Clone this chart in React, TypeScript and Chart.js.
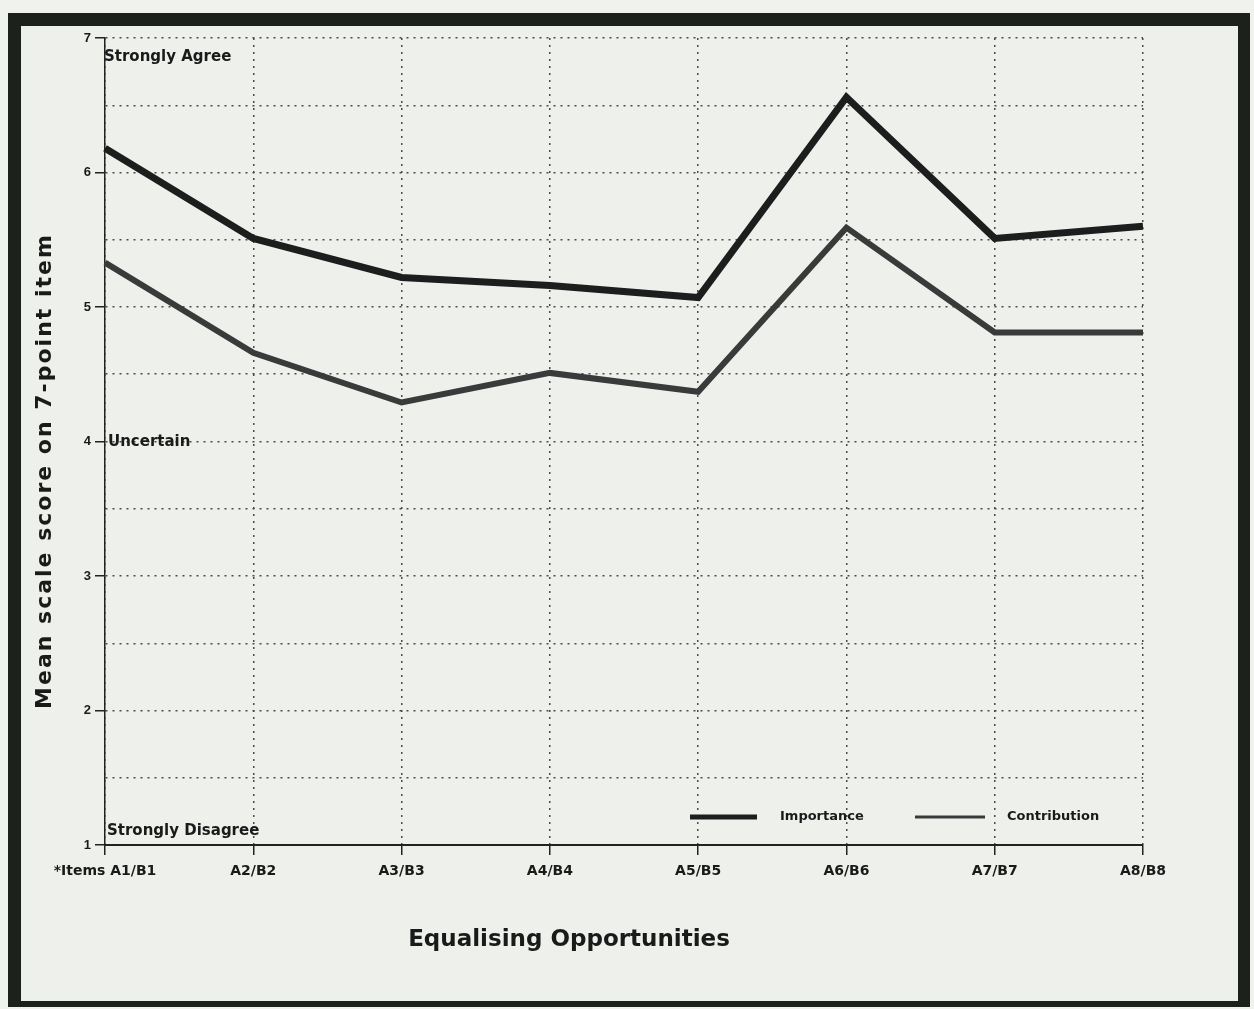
import React, { useEffect, useRef } from "react";
import { Chart, registerables } from "chart.js";

Chart.register(...registerables);

// ---- data ----
const categories = ["A1/B1", "A2/B2", "A3/B3", "A4/B4", "A5/B5", "A6/B6", "A7/B7", "A8/B8"];
const tickLabels = ["*Items A1/B1", "A2/B2", "A3/B3", "A4/B4", "A5/B5", "A6/B6", "A7/B7", "A8/B8"];
const importance = [6.18, 5.51, 5.22, 5.16, 5.07, 6.56, 5.51, 5.6];
const contribution = [5.33, 4.66, 4.29, 4.51, 4.37, 5.59, 4.81, 4.81];
const seriesNames = ["Importance", "Contribution"];
const yMin = 1;
const yMax = 7;
const yStep = 0.5;
const anchorValues = [7, 4, 1];
const anchorLabels = ["Strongly Agree", "Uncertain", "Strongly Disagree"];
const xTitle = "Equalising Opportunities";
const yTitle = "Mean scale score on 7-point item";

const FONT = "'DejaVu Sans', 'Liberation Sans', Arial, sans-serif";
const FONT2 = "'Liberation Sans', Arial, sans-serif";

const decorPlugin = {
  id: "decor",
  afterDatasetsDraw(chart: any) {
    const { ctx, chartArea, scales } = chart;
    const y = scales.y;
    ctx.save();
    ctx.fillStyle = "#1a1a1a";
    ctx.textBaseline = "middle";
    ctx.textAlign = "left";
    // scale anchor labels
    const offsets = [19, 1, -14];
    const xOff = [-1, 3, 2];
    const sizes = [15, 15, 15];
    anchorValues.forEach((v, i) => {
      ctx.font = `bold ${sizes[i]}px ${FONT}`;
      ctx.fillText(anchorLabels[i], chartArea.left + xOff[i], y.getPixelForValue(v) + offsets[i]);
    });

    // legend (inside plot, bottom right)
    const legendY = y.getPixelForValue(1) - 28;
    const items = [
      { x1: 690, x2: 757, tx: 780 },
      { x1: 915, x2: 985, tx: 1007 },
    ];
    chart.data.datasets
      .filter((d: any) => d.showInLegend)
      .forEach((d: any, i: number) => {
        const it = items[i];
        ctx.beginPath();
        ctx.lineWidth = d.legendWidth;
        ctx.strokeStyle = d.borderColor;
        ctx.moveTo(it.x1, legendY);
        ctx.lineTo(it.x2, legendY);
        ctx.stroke();
        ctx.font = `bold 13px ${FONT}`;
        ctx.fillStyle = "#1a1a1a";
        ctx.fillText(d.label, it.tx, legendY);
      });

    // axis titles
    ctx.textAlign = "center";
    ctx.font = `bold 23px ${FONT}`;
    ctx.fillText(xTitle, 569, 940);

    ctx.translate(45, 471);
    ctx.rotate(-Math.PI / 2);
    ctx.font = `bold 22px ${FONT}`;
    (ctx as any).letterSpacing = "2px";
    ctx.fillText(yTitle, 0, 0);
    ctx.restore();
  },
};

export default function App() {
  const ref = useRef<HTMLCanvasElement | null>(null);

  useEffect(() => {
    if (!ref.current) return;
    const chart = new Chart(ref.current, {
      type: "line",
      data: {
        labels: categories,
        datasets: [
          {
            label: seriesNames[0],
            data: importance,
            borderColor: "#1d1d1d",
            borderWidth: 7,
            pointRadius: 0,
            tension: 0,
            showInLegend: true,
            legendWidth: 5,
          } as any,
          {
            label: seriesNames[1],
            data: contribution,
            borderColor: "#3a3a3a",
            borderWidth: 6,
            pointRadius: 0,
            tension: 0,
            showInLegend: true,
            legendWidth: 3,
          } as any,
          {
            label: seriesNames[1] + " inner",
            data: contribution,
            borderColor: "#6e6e6e",
            borderWidth: 2,
            pointRadius: 0,
            tension: 0,
            showInLegend: false,
          } as any,
        ],
      },
      options: {
        responsive: false,
        animation: false,
        events: [],
        layout: { padding: { left: 0, top: 38, right: 111, bottom: 0 } },
        plugins: {
          legend: { display: false },
          tooltip: { enabled: false },
          title: { display: false },
        },
        scales: {
          x: {
            type: "category",
            offset: false,
            afterFit: (s: any) => {
              s.height = 164;
            },
            grid: {
              color: "#4a4a4a",
              lineWidth: 1.5,
              tickLength: 10,
              tickColor: "#222",
              tickWidth: 1.5,
              tickBorderDash: [],
            },
            border: { display: true, color: "#222", width: 2, dash: [2, 5] },
            ticks: {
              color: "#1a1a1a",
              font: { family: FONT, size: 14, weight: "bold" },
              padding: 8,
              maxRotation: 0,
              autoSkip: false,
              callback: (_v: any, i: number) => tickLabels[i],
            },
          },
          y: {
            min: yMin,
            max: yMax,
            afterFit: (s: any) => {
              s.width = 105;
            },
            grid: {
              color: "#4a4a4a",
              lineWidth: 1.5,
              tickLength: 10,
              tickColor: (c: any) => (Number.isInteger(c.tick?.value) ? "#222" : "rgba(0,0,0,0)"),
              tickWidth: 1.5,
              tickBorderDash: [],
            },
            border: { display: true, color: "#222", width: 1.5, dash: [2, 5] },
            ticks: {
              stepSize: yStep,
              color: "#1a1a1a",
              font: { family: FONT2, size: 13, weight: "bold" },
              padding: 4,
              callback: (v: any) => (Number.isInteger(v) ? String(v) : ""),
            },
          },
        },
      },
      plugins: [decorPlugin],
    });
    return () => chart.destroy();
  }, []);

  return (
    <div
      style={{
        position: "absolute",
        left: 0,
        top: 0,
        width: 1254,
        height: 1009,
        background: "#f0f2ee",
        overflow: "hidden",
      }}
    >
      <div
        style={{
          position: "absolute",
          boxSizing: "border-box",
          left: 8,
          top: 13,
          width: 1242,
          height: 994,
          borderLeft: "13px solid #1c211c",
          borderTop: "13px solid #1c211c",
          borderRight: "12px solid #1c211c",
          borderBottom: "6px solid #1c211c",
          background: "#eef0ec",
        }}
      />
      <canvas
        ref={ref}
        width={1254}
        height={1009}
        style={{ position: "absolute", left: 0, top: 0, width: 1254, height: 1009 }}
      />
    </div>
  );
}
